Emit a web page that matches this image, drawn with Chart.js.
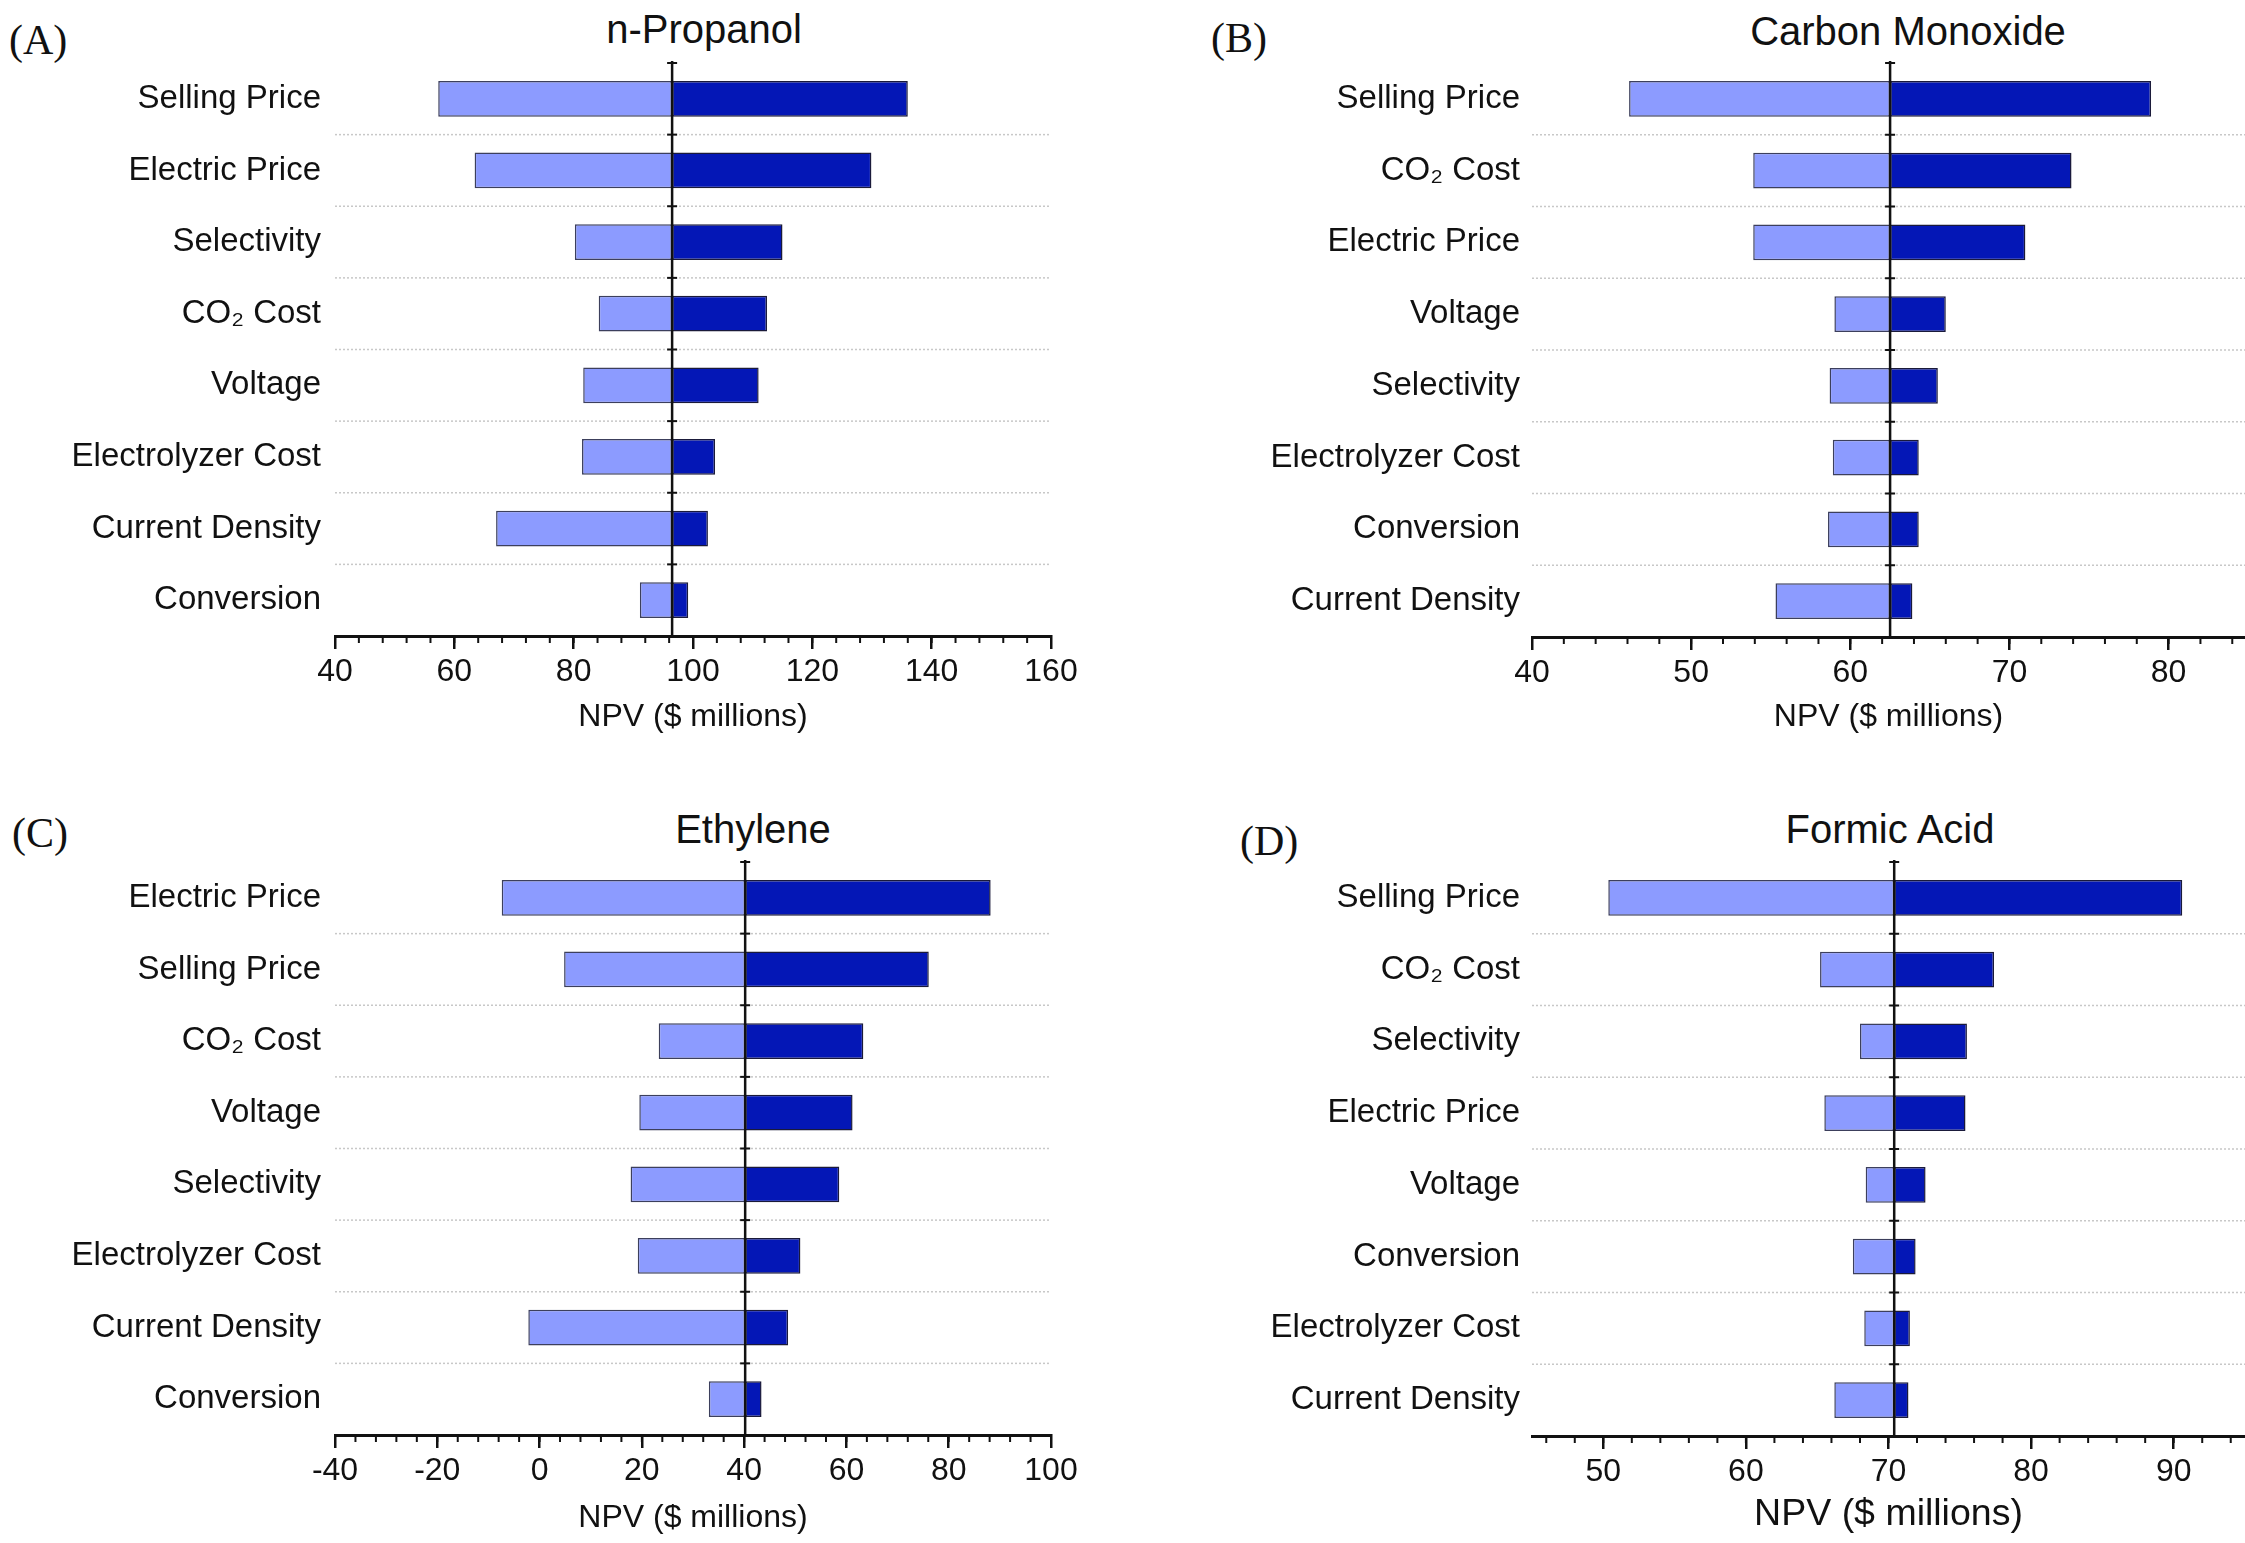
<!DOCTYPE html>
<html>
<head>
<meta charset="utf-8">
<script src="https://cdn.jsdelivr.net/npm/chart.js@4.4.0/dist/chart.umd.min.js"></script>
<style>
  body { margin: 0; background: #fff; width: 2245px; height: 1543px; position: relative; overflow: hidden;
         font-family: "Liberation Sans", Arial, sans-serif; }
  canvas { position: absolute; }
  .title { position: absolute; font-size: 40px; color: #111; white-space: nowrap; transform: translate(-50%, -50%); }
  .tag { position: absolute; font-family: "Liberation Serif", "Times New Roman", serif; font-size: 42px; color: #111; transform: translateY(-50%); }
</style>
</head>
<body>

<div class="tag" style="left:9px;top:40px">(A)</div>
<div class="tag" style="left:1211px;top:38px">(B)</div>
<div class="tag" style="left:12px;top:833px">(C)</div>
<div class="tag" style="left:1240px;top:841px">(D)</div>

<div class="title" style="left:704px;top:29px">n-Propanol</div>
<div class="title" style="left:1908px;top:31px">Carbon Monoxide</div>
<div class="title" style="left:753px;top:829px">Ethylene</div>
<div class="title" style="left:1890px;top:829px">Formic Acid</div>

<canvas id="chartA" width="1100" height="740" style="left:0;top:0"></canvas>
<canvas id="chartB" width="1125" height="740" style="left:1120px;top:0"></canvas>
<canvas id="chartC" width="1100" height="761" style="left:0;top:780px"></canvas>
<canvas id="chartD" width="1125" height="761" style="left:1120px;top:780px"></canvas>

<script>
// n-Propanol
const propanolLabels = ["Selling Price", "Electric Price", "Selectivity", "CO₂ Cost", "Voltage", "Electrolyzer Cost", "Current Density", "Conversion"]
const propanolLow = [57.3, 63.4, 80.2, 84.2, 81.6, 81.4, 67.0, 91.1]
const propanolHigh = [136.0, 129.9, 115.0, 112.4, 111.0, 103.7, 102.5, 99.2]
const propanolBase = 96.5
const propanolAxis = [40, 160, 20, 4]   // min, max, label step, minor step

// Carbon Monoxide
const coLabels = ["Selling Price", "CO₂ Cost", "Electric Price", "Voltage", "Selectivity", "Electrolyzer Cost", "Conversion", "Current Density"]
const coLow = [46.1, 53.9, 53.9, 59.0, 58.7, 58.9, 58.6, 55.3]
const coHigh = [78.9, 73.9, 71.0, 66.0, 65.5, 64.3, 64.3, 63.9]
const coBase = 62.5
const coAxis = [40, 84.8, 10, 2]

// Ethylene
const ethyleneLabels = ["Electric Price", "Selling Price", "CO₂ Cost", "Voltage", "Selectivity", "Electrolyzer Cost", "Current Density", "Conversion"]
const ethyleneLow = [-7.4, 4.8, 23.3, 19.5, 17.8, 19.2, -2.2, 33.1]
const ethyleneHigh = [88.2, 76.1, 63.3, 61.2, 58.6, 51.0, 48.6, 43.4]
const ethyleneBase = 40.2
const ethyleneAxis = [-40, 100, 20, 4]

// Formic Acid
const formicLabels = ["Selling Price", "CO₂ Cost", "Selectivity", "Electric Price", "Voltage", "Conversion", "Electrolyzer Cost", "Current Density"]
const formicLow = [50.35, 65.2, 68.0, 65.5, 68.4, 67.5, 68.3, 66.2]
const formicHigh = [90.6, 77.4, 75.5, 75.4, 72.6, 71.9, 71.5, 71.4]
const formicBase = 70.4
const formicAxis = [45, 95, 10, 2]

const lightBlue = "#8c9bff"
const darkBlue = "#0417b6"
const fontFamily = '"Liberation Sans", Arial, sans-serif'

// center line, separators and minor ticks
const tornadoPlugin = {
    id: "tornado",
    beforeDatasetsDraw(chart, args, opts) {
        const ctx = chart.ctx
        const area = chart.chartArea
        const y = chart.scales.y
        ctx.save()
        ctx.strokeStyle = "#c8c8c8"
        ctx.lineWidth = 1.5
        ctx.setLineDash([2, 2])
        for (let i = 1; i < y.ticks.length; i++) {
            const py = (y.getPixelForValue(i - 1) + y.getPixelForValue(i)) / 2
            ctx.beginPath()
            ctx.moveTo(area.left, py)
            ctx.lineTo(area.right, py)
            ctx.stroke()
        }
        ctx.restore()
    },
    afterDatasetsDraw(chart, args, opts) {
        const ctx = chart.ctx
        const area = chart.chartArea
        const x = chart.scales.x
        const y = chart.scales.y
        const px = x.getPixelForValue(opts.base)
        ctx.save()
        ctx.strokeStyle = "#111"
        ctx.lineWidth = 2.5
        ctx.beginPath()
        ctx.moveTo(px, area.top - 2)
        ctx.lineTo(px, area.bottom)
        ctx.stroke()
        ctx.lineWidth = 2
        const half = (y.getPixelForValue(1) - y.getPixelForValue(0)) / 2
        for (let i = 0; i < y.ticks.length; i++) {
            const py = y.getPixelForValue(i) - half
            ctx.beginPath()
            ctx.moveTo(px - 5, py)
            ctx.lineTo(px + 5, py)
            ctx.stroke()
        }
        ctx.restore()
    },
    afterDraw(chart, args, opts) {
        const ctx = chart.ctx
        const x = chart.scales.x
        const bottom = chart.chartArea.bottom
        ctx.save()
        ctx.strokeStyle = "#111"
        ctx.lineWidth = 2
        for (let v = Math.ceil(x.min / opts.minor) * opts.minor; v <= x.max + 1e-9; v += opts.minor) {
            const px = x.getPixelForValue(v)
            ctx.beginPath()
            ctx.moveTo(px, bottom)
            ctx.lineTo(px, bottom + 7)
            ctx.stroke()
        }
        ctx.restore()
    }
}

function drawTornado(id, labels, low, high, base, axis, box) {
    const [min, max, step, minor] = axis
    const canvas = document.getElementById(id)

    new Chart(canvas, {
        type: "bar",
        data: {
            labels: labels,
            datasets: [{
                data: low.map(v => [v, base]),
                backgroundColor: lightBlue,
                borderColor: "#3c3f5c",
                borderWidth: 1.5,
                borderSkipped: false,
                grouped: false,
                barPercentage: 0.5,
                categoryPercentage: 1
            }, {
                data: high.map(v => [base, v]),
                backgroundColor: darkBlue,
                borderColor: "#1a1a3a",
                borderWidth: 1.5,
                borderSkipped: false,
                grouped: false,
                barPercentage: 0.5,
                categoryPercentage: 1
            }]
        },
        options: {
            indexAxis: "y",
            responsive: false,
            devicePixelRatio: 1,
            animation: false,
            layout: { padding: { left: 0, top: box.top, right: canvas.width - box.right, bottom: 0 } },
            plugins: {
                legend: { display: false },
                tooltip: { enabled: false },
                tornado: { base: base, minor: minor }
            },
            scales: {
                y: {
                    grid: { display: false, drawTicks: false },
                    border: { display: false },
                    ticks: { color: "#111", padding: box.labelPad, font: { family: fontFamily, size: 33 } },
                    afterFit: s => { s.width = box.left }
                },
                x: {
                    min: min,
                    max: max,
                    border: { display: true, color: "#111", width: 3 },
                    grid: { display: true, drawOnChartArea: false, drawTicks: true, tickLength: 13, color: "#111", lineWidth: 2.5 },
                    ticks: { color: "#111", padding: 4, maxRotation: 0, font: { family: fontFamily, size: 32 } },
                    afterBuildTicks: s => {
                        const ticks = []
                        for (let v = Math.ceil(min / step) * step; v <= max + 1e-9; v += step) ticks.push({ value: v })
                        s.ticks = ticks
                    },
                    title: {
                        display: true,
                        text: "NPV ($ millions)",
                        color: "#111",
                        padding: { top: 0, bottom: 4 },
                        font: { family: fontFamily, size: box.titleSize }
                    },
                    afterFit: s => { s.height = canvas.height - box.bottom }
                }
            }
        },
        plugins: [tornadoPlugin]
    })
}

drawTornado("chartA", propanolLabels, propanolLow, propanolHigh, propanolBase, propanolAxis,
    { left: 335, right: 1051, top: 63, bottom: 636, labelPad: 14, titleSize: 32 })
drawTornado("chartB", coLabels, coLow, coHigh, coBase, coAxis,
    { left: 412, right: 1125, top: 63, bottom: 637, labelPad: 12, titleSize: 32 })
drawTornado("chartC", ethyleneLabels, ethyleneLow, ethyleneHigh, ethyleneBase, ethyleneAxis,
    { left: 335, right: 1051, top: 82, bottom: 655, labelPad: 14, titleSize: 32 })
drawTornado("chartD", formicLabels, formicLow, formicHigh, formicBase, formicAxis,
    { left: 412, right: 1125, top: 82, bottom: 656, labelPad: 12, titleSize: 37.5 })
</script>
</body>
</html>
